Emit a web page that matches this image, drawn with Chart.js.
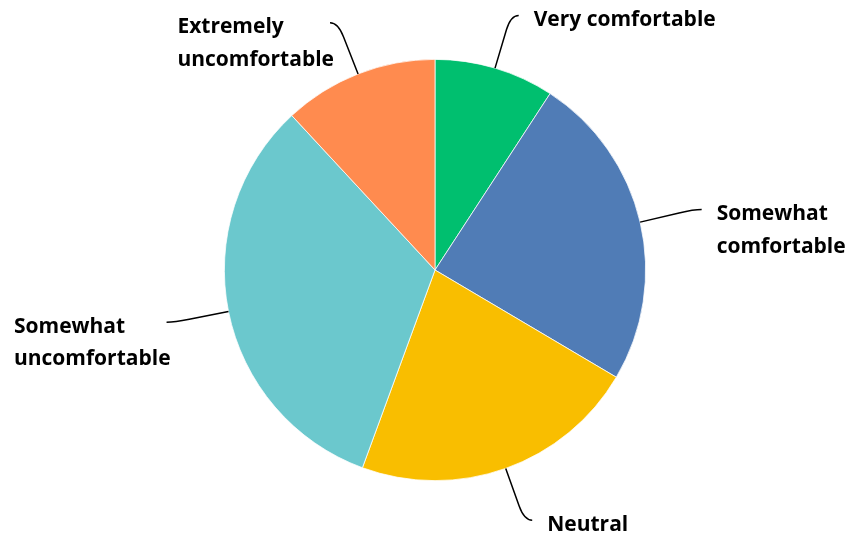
<!DOCTYPE html>
<html>
<head>
<meta charset="utf-8">
<script src="https://cdn.jsdelivr.net/npm/chart.js@4"></script>
<style>
  html, body { margin: 0; padding: 0; background: #fff; }
  #wrap { width: 852px; height: 538px; position: relative; }
</style>
</head>
<body>
<div id="wrap"><canvas id="c" width="852" height="538"></canvas></div>
<script>
const categories = ["Very comfortable", "Somewhat comfortable", "Neutral", "Somewhat uncomfortable", "Extremely uncomfortable"];
const labelLines = [["Very comfortable"], ["Somewhat", "comfortable"], ["Neutral"], ["Somewhat", "uncomfortable"], ["Extremely", "uncomfortable"]];
const values = [9.2, 24.3, 22.1, 32.5, 11.9];
const colors = ["#00BF6F", "#507CB6", "#F9BE00", "#6BC8CD", "#FF8B4F"];

const FONT = "bold 21px 'Open Sans'";
const LINE_H = 32.5;

const leaderLabels = {
  id: 'leaderLabels',
  afterDatasetsDraw(chart) {
    const ctx = chart.ctx;
    const meta = chart.getDatasetMeta(0);
    ctx.save();
    ctx.font = FONT;
    ctx.fillStyle = '#000';
    ctx.strokeStyle = '#000';
    ctx.lineWidth = 1.5;
    ctx.textBaseline = 'alphabetic';
    meta.data.forEach((arc, i) => {
      const p = arc.getProps(['x', 'y', 'startAngle', 'endAngle', 'outerRadius'], true);
      const mid = (p.startAngle + p.endAngle) / 2;
      const dx = Math.cos(mid), dy = Math.sin(mid);
      const r = p.outerRadius;
      const x0 = p.x + r * dx, y0 = p.y + r * dy;
      const xm = p.x + (r + 40) * dx, ym = p.y + (r + 40) * dy;
      const xe = p.x + (r + 55) * dx, ye = p.y + (r + 55) * dy;
      const h = dx >= 0 ? 1 : -1;
      const x3 = xe + 8 * h, y3 = ye;
      ctx.beginPath();
      ctx.moveTo(x0, y0);
      ctx.lineTo(xm, ym);
      ctx.quadraticCurveTo(xe, ye, x3, y3);
      ctx.stroke();
      const lines = labelLines[i];
      const base = y3 + 10.5;
      if (h > 0) {
        ctx.textAlign = 'left';
        lines.forEach((t, k) => ctx.fillText(t, x3 + 15, base + k * LINE_H));
      } else {
        const w = Math.max(...lines.map(t => ctx.measureText(t).width));
        const left = x3 + 4 - w;
        ctx.textAlign = 'left';
        lines.forEach((t, k) => ctx.fillText(t, left, base + k * LINE_H));
      }
    });
    ctx.restore();
  }
};

new Chart(document.getElementById('c'), {
  type: 'pie',
  data: {
    labels: categories,
    datasets: [{
      data: values,
      backgroundColor: colors,
      borderColor: '#ffffff',
      borderWidth: 0.75
    }]
  },
  options: {
    responsive: false,
    animation: false,
    layout: { padding: { left: 224, right: 206, top: 59, bottom: 57 } },
    plugins: {
      legend: { display: false },
      tooltip: { enabled: false }
    }
  },
  plugins: [leaderLabels]
});
</script>
</body>
</html>
